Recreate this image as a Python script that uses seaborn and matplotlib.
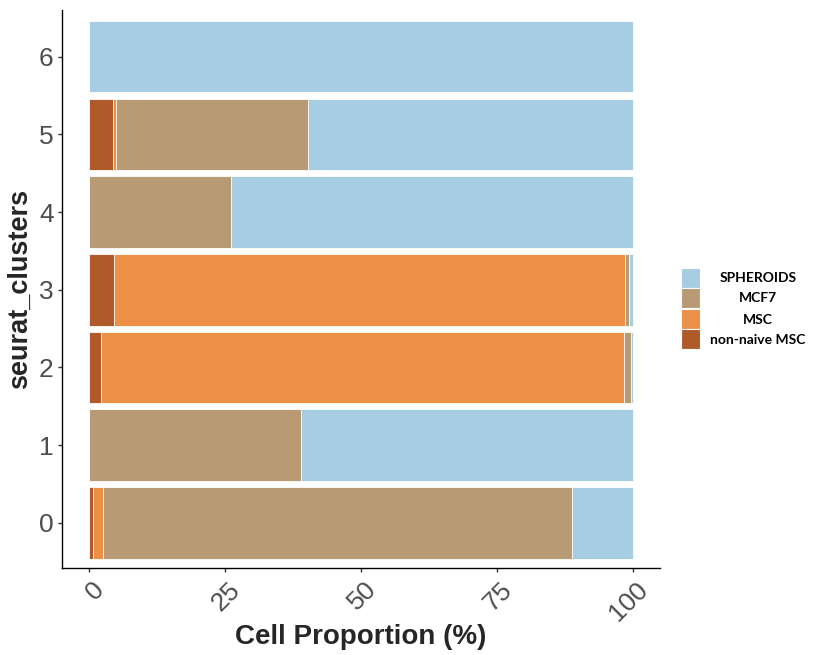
import matplotlib
matplotlib.use("Agg")
import matplotlib.pyplot as plt
import matplotlib.transforms as mtransforms
import seaborn as sns
import pandas as pd
import numpy as np
from matplotlib.patches import Rectangle

clusters = ["0", "1", "2", "3", "4", "5", "6"]
non_naive_msc = [0.75, 0.0, 2.2, 4.6, 0.0, 4.3, 0.0]
msc = [1.85, 0.0, 96.1, 93.9, 0.0, 0.7, 0.0]
mcf7 = [86.2, 39.0, 1.3, 0.8, 26.0, 35.3, 0.0]
spheroids = [11.2, 61.0, 0.4, 0.7, 74.0, 59.7, 100.0]

series_names = ["non-naive MSC", "MSC", "MCF7", "SPHEROIDS"]
series_vals = [non_naive_msc, msc, mcf7, spheroids]
legend_order = ["SPHEROIDS", "MCF7", "MSC", "non-naive MSC"]
colors = {"SPHEROIDS": "#a6cde2", "MCF7": "#b89a74", "MSC": "#ed9047", "non-naive MSC": "#b05a2a"}

sns.set_style("white")
plt.rcParams["font.family"] = ["Liberation Sans", "DejaVu Sans"]

cum = np.zeros(len(clusters))
cums = []
for name, vals in zip(series_names, series_vals):
    cum = cum + np.array(vals)
    cums.append((name, cum.copy()))

W, H = 819, 655
fig = plt.figure(figsize=(W / 100, H / 100), dpi=100)
ax = fig.add_axes([62 / W, 1 - 568 / H, (660 - 62) / W, (568 - 10) / H])

order = clusters[::-1]
for name, c in reversed(cums):
    d = pd.DataFrame({"cluster": clusters, "value": c})
    sns.barplot(data=d, x="value", y="cluster", order=order, orient="h",
                color=colors[name], saturation=1, width=0.92, ax=ax,
                edgecolor="white", linewidth=0.6)

ax.set_xlim(-5, 105)
ax.set_ylim(6.58, -0.6)
ax.set_xticks([0, 25, 50, 75, 100])
ax.set_xticklabels(["0", "25", "50", "75", "100"])
ax.tick_params(axis="both", labelsize=19, labelcolor="#4d4d4d", length=3, width=1, color="#333333",
               bottom=True, left=True, pad=3)
offset = mtransforms.ScaledTranslation(3 / 100, -1 / 100, fig.dpi_scale_trans)
for lab in ax.get_xticklabels():
    lab.set_rotation(45)
    lab.set_rotation_mode("anchor")
    lab.set_ha("right")
    lab.set_va("top")
    lab.set_transform(lab.get_transform() + offset)
ax.set_xlabel("Cell Proportion (%)", fontsize=20, fontweight="bold", va="top")
ax.xaxis.set_label_coords(0.5, -(624 - 568) / 558)
ax.set_ylabel("seurat_clusters", fontsize=19.5, fontweight="bold", labelpad=4)
for s in ["top", "right"]:
    ax.spines[s].set_visible(False)
for s in ["left", "bottom"]:
    ax.spines[s].set_color("black")
    ax.spines[s].set_linewidth(1)

# legend (keys + centred labels, as in the reference)
key_tops = [268, 288, 309, 329]
key_h = 20
text_cx = 758
for name, top in zip(legend_order, key_tops):
    fig.patches.append(Rectangle((681 / W, 1 - (top + key_h) / H), 19 / W, key_h / H,
                                 transform=fig.transFigure, facecolor=colors[name],
                                 edgecolor="white", linewidth=0.8))
    fig.text(text_cx / W, 1 - (top + key_h / 2 + 0.5) / H, name, ha="center", va="center",
             fontsize=10, fontweight="bold", family=["Lato", "DejaVu Sans"], color="black")

fig.savefig("out.png", dpi=100)
